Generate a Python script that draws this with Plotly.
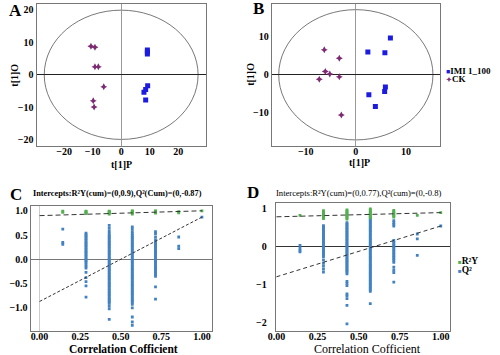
import plotly.graph_objects as go

# ---------------- data ----------------
# Panel A (OPLS-DA scores)
a_imi_x = [9.2, 9.2, 9.2, 9.3, 8.6, 8.0, 8.6]
a_imi_y = [7.6, 7.0, 6.4, -3.4, -4.5, -5.4, -7.8]
a_ck_x = [-10.6, -9.2, -9.2, -8.0, -6.1, -9.8, -9.5]
a_ck_y = [8.8, 8.5, 2.5, 2.5, -3.7, -8.0, -9.9]
a_ellipse = (27.0, 19.9)

# Panel B
b_imi_x = [6.9, 2.4, 5.8, 5.9, 5.75, 2.6, 3.9]
b_imi_y = [9.7, 6.0, 5.8, -3.2, -4.4, -5.3, -8.4]
b_ck_x = [-6.3, -3.3, -6.1, -5.2, -7.3, -3.3, -2.9]
b_ck_y = [6.6, 4.4, 0.9, 0.2, -1.2, -0.5, -10.6]
b_ellipse = (15.4, 17.2)

series_names = ["IMI 1_100", "CK"]
perm_names = ["R²Y", "Q²"]

# Panel C (permutation test)
c_r2y = {
    0.143: [0.97, 0.99],
    0.286: [0.94, 0.96, 0.98, 0.99],
    0.429: [0.93, 0.95, 0.97, 0.98, 0.99],
    0.571: [0.93, 0.95, 0.97, 0.99, 1.0],
    0.714: [0.95, 0.97, 0.99, 1.0],
    0.857: [0.96, 0.98],
    1.0: [1.0],
}
c_q2 = {
    0.143: [0.62, 0.35, 0.31],
    0.286: [0.54, 0.51, 0.48, 0.45, 0.42, 0.39, 0.36, 0.33, 0.30, 0.27, 0.24, 0.21,
            0.18, 0.15, 0.12, 0.09, 0.06, 0.03, 0.0, -0.03, -0.06, -0.10, -0.14, -0.18,
            -0.27, -0.38, -0.46, -0.55, -0.78],
    0.429: [0.70, 0.64, 0.58, 0.54, 0.50, 0.47, 0.44, 0.41, 0.38, 0.35, 0.32, 0.29,
            0.26, 0.23, 0.20, 0.17, 0.14, 0.11, 0.08, 0.05, 0.02, -0.01, -0.04, -0.07,
            -0.10, -0.13, -0.16, -0.19, -0.22, -0.25, -0.28, -0.31, -0.34, -0.37, -0.40,
            -0.43, -0.46, -0.49, -0.52, -0.55, -0.58, -0.61, -0.64, -0.67, -0.70, -0.73,
            -0.76, -0.79, -0.82, -0.85, -0.88, -0.91, -0.96, -1.02, -1.24],
    0.571: [0.67, 0.62, 0.57, 0.53, 0.49, 0.46, 0.43, 0.40, 0.37, 0.34, 0.31, 0.28,
            0.25, 0.22, 0.19, 0.16, 0.13, 0.10, 0.07, 0.04, 0.01, -0.02, -0.05, -0.08,
            -0.11, -0.14, -0.17, -0.20, -0.23, -0.26, -0.29, -0.32, -0.35, -0.38, -0.41,
            -0.44, -0.47, -0.50, -0.53, -0.56, -0.59, -0.62, -0.65, -0.68, -0.71, -0.74,
            -0.77, -0.80, -0.83, -0.86, -0.89, -0.93, -1.0, -1.19, -1.29, -1.36],
    0.714: [0.57, 0.53, 0.46, 0.40, 0.37, 0.34, 0.31, 0.28, 0.25, 0.22, 0.19, 0.16,
            0.13, 0.10, 0.07, 0.04, 0.01, -0.02, -0.05, -0.08, -0.11, -0.14, -0.17,
            -0.20, -0.23, -0.26, -0.29, -0.32, -0.35, -0.57, -0.82],
    0.857: [0.46, 0.27, 0.22],
    1.0: [0.87],
}
c_r2y_line = [0.90, 1.0]   # intercept, original model
c_q2_line = [-0.87, 0.87]

# Panel D
d_r2y = {
    0.143: [0.81],
    0.286: [0.72, 0.75, 0.78, 0.80, 0.83, 0.86, 0.90, 0.93],
    0.429: [0.71, 0.74, 0.77, 0.80, 0.83, 0.86, 0.89, 0.92, 0.95],
    0.571: [0.74, 0.77, 0.80, 0.83, 0.86, 0.89, 0.92, 0.95, 0.98],
    0.714: [0.76, 0.79, 0.82, 0.85, 0.88, 0.91, 0.94],
    0.857: [0.81],
    1.0: [0.88],
}
d_q2 = {
    0.143: [0.02, -0.05, -0.11, -0.15],
    0.286: [0.54, 0.50, 0.47, 0.43, 0.40, 0.36, 0.33, 0.29, 0.26, 0.22, 0.19, 0.15,
            0.12, 0.08, 0.05, 0.01, -0.02, -0.06, -0.09, -0.13, -0.16, -0.20, -0.23,
            -0.27, -0.36, -0.45, -0.52, -0.60, -0.68],
    0.429: [0.62, 0.58, 0.55, 0.51, 0.48, 0.44, 0.41, 0.37, 0.34, 0.30, 0.27, 0.23,
            0.20, 0.16, 0.13, 0.09, 0.06, 0.02, -0.01, -0.05, -0.08, -0.12, -0.15,
            -0.19, -0.22, -0.26, -0.29, -0.33, -0.36, -0.40, -0.43, -0.47, -0.50,
            -0.54, -0.57, -0.61, -0.64, -0.68, -0.72, -0.92, -0.97, -1.03, -1.25,
            -1.30, -1.37, -1.55, -2.03],
    0.571: [0.75, 0.71, 0.68, 0.64, 0.61, 0.57, 0.54, 0.50, 0.47, 0.43, 0.40, 0.36,
            0.33, 0.29, 0.26, 0.22, 0.19, 0.15, 0.12, 0.08, 0.05, 0.01, -0.02, -0.06,
            -0.09, -0.13, -0.16, -0.20, -0.23, -0.27, -0.30, -0.34, -0.37, -0.41,
            -0.44, -0.48, -0.51, -0.55, -0.58, -0.62, -0.65, -0.69, -0.72, -0.76,
            -0.79, -0.83, -0.86, -0.90, -0.93, -0.97, -1.00, -1.04, -1.07, -1.11,
            -1.14, -1.18, -1.50],
    0.714: [0.67, 0.62, 0.57, 0.53, 0.15, 0.11, 0.07, 0.03, -0.01, -0.05, -0.09,
            -0.13, -0.17, -0.21, -0.25, -0.29, -0.33, -0.37, -0.42, -0.55, -0.63,
            -0.69, -0.94],
    0.857: [0.32, 0.19, -0.24],
    1.0: [0.53],
}
d_r2y_line = [0.77, 0.88]
d_q2_line = [-0.80, 0.53]

# ---------------- helpers ----------------
W, H = 500, 355
def px(x):
    return x / W
def py(y):
    return 1 - y / H

def flatten(d):
    xs, ys = [], []
    for k, vals in d.items():
        xs += [k] * len(vals)
        ys += vals
    return xs, ys

SERIF = "Liberation Serif"
BLUE_SQ = "#1c1ce0"
PURPLE = "#7d2a72"
Q2C = "#4382c2"
R2C = "#52b04f"
LINE = "#333333"

fig = go.Figure()

# A
fig.add_trace(go.Scatter(x=a_imi_x, y=a_imi_y, mode="markers", xaxis="x", yaxis="y",
                         marker=dict(symbol="square", size=5, color=BLUE_SQ), showlegend=False))
fig.add_trace(go.Scatter(x=a_ck_x, y=a_ck_y, mode="markers", xaxis="x", yaxis="y",
                         marker=dict(symbol="star-diamond", size=5, color=PURPLE), showlegend=False))
# B
fig.add_trace(go.Scatter(x=b_imi_x, y=b_imi_y, mode="markers", xaxis="x2", yaxis="y2",
                         marker=dict(symbol="square", size=5, color=BLUE_SQ), showlegend=False))
fig.add_trace(go.Scatter(x=b_ck_x, y=b_ck_y, mode="markers", xaxis="x2", yaxis="y2",
                         marker=dict(symbol="star-diamond", size=5, color=PURPLE), showlegend=False))

# C
for d, col in [(c_q2, Q2C), (c_r2y, R2C)]:
    xs, ys = flatten(d)
    fig.add_trace(go.Scatter(x=xs, y=ys, mode="markers", xaxis="x3", yaxis="y3",
                             marker=dict(symbol="square", size=2.8, color=col), showlegend=False))
fig.add_trace(go.Scatter(x=[0, 1], y=c_r2y_line, mode="lines", xaxis="x3", yaxis="y3",
                         line=dict(color=LINE, width=1, dash="5px,3px"), showlegend=False))
fig.add_trace(go.Scatter(x=[0, 1], y=c_q2_line, mode="lines", xaxis="x3", yaxis="y3",
                         line=dict(color=LINE, width=1, dash="3px,2px"), showlegend=False))
# D
for d, col in [(d_q2, Q2C), (d_r2y, R2C)]:
    xs, ys = flatten(d)
    fig.add_trace(go.Scatter(x=xs, y=ys, mode="markers", xaxis="x4", yaxis="y4",
                             marker=dict(symbol="square", size=2.8, color=col), showlegend=False))
fig.add_trace(go.Scatter(x=[0, 1], y=d_r2y_line, mode="lines", xaxis="x4", yaxis="y4",
                         line=dict(color=LINE, width=1, dash="5px,3px"), showlegend=False))
fig.add_trace(go.Scatter(x=[0, 1], y=d_q2_line, mode="lines", xaxis="x4", yaxis="y4",
                         line=dict(color=LINE, width=1, dash="4px,3px"), showlegend=False))

tickfont = dict(family=SERIF, size=10, color="black", weight="bold")
def ax(**kw):
    base = dict(showgrid=False, showline=True, mirror=True, linecolor="#777", linewidth=1,
                ticks="", tickfont=tickfont, zeroline=True, zerolinewidth=1)
    base.update(kw)
    return base

layout = dict(
    width=W, height=H, margin=dict(l=0, r=0, t=0, b=0),
    paper_bgcolor="white", plot_bgcolor="white", showlegend=False,
    xaxis=ax(domain=[px(29), px(201)], range=[-29.7, 29.7], tickvals=[-20, -10, 0, 10, 20],
             anchor="y", zerolinecolor="#999", ticklabelstandoff=-4),
    yaxis=ax(domain=[py(145), py(3)], range=[-21.8, 21.8], tickvals=[-20, -10, 0, 10, 20],
             anchor="x", zerolinecolor="#222"),
    xaxis2=ax(domain=[px(268), px(439)], range=[-16.8, 16.8], tickvals=[-10, 0, 10],
              anchor="y2", zerolinecolor="#999", ticklabelstandoff=-4),
    yaxis2=ax(domain=[py(145), py(3)], range=[-18.7, 18.7], tickvals=[-10, 0, 10],
              anchor="x2", zerolinecolor="#222"),
    xaxis3=ax(domain=[px(23), px(207)], range=[-0.055, 1.06], tickvals=[0, 0.25, 0.5, 0.75, 1.0],
              tickformat=".2f", anchor="y3", zerolinecolor="#ccc", ticklabelstandoff=-4),
    yaxis3=ax(domain=[py(331), py(206)], range=[-1.48, 1.09], tickvals=[-1.0, -0.5, 0, 0.5, 1.0],
              tickformat=".1f", anchor="x3", zerolinecolor="#777"),
    xaxis4=ax(domain=[px(272), px(449)], range=[-0.005, 1.055], tickvals=[0, 0.25, 0.5, 0.75, 1.0],
              tickformat=".2f", anchor="y4", zeroline=False, ticklabelstandoff=-4),
    yaxis4=ax(domain=[py(331), py(203)], range=[-2.22, 1.12], tickvals=[-2, -1, 0, 1],
              anchor="x4", zerolinecolor="#333", ticklabelstandoff=6),
)
fig.update_layout(**layout)

# confidence ellipses
for (rx, ry), xr, yr in [(a_ellipse, "x", "y"), (b_ellipse, "x2", "y2")]:
    fig.add_shape(type="circle", xref=xr, yref=yr, x0=-rx, x1=rx, y0=-ry, y1=ry,
                  line=dict(color="#555", width=0.8), layer="below")

def note(text, x, y, size=10, bold=True, xanchor="center", angle=0, color="black"):
    fig.add_annotation(text=text, x=px(x), y=py(y), xref="paper", yref="paper",
                       xanchor=xanchor, yanchor="middle", showarrow=False, textangle=angle,
                       font=dict(family=SERIF, size=size, color=color,
                                 weight="bold" if bold else "normal"))

# panel letters
note("A", 8, 10, size=17)
note("B", 255, 8, size=17)
note("C", 8, 194, size=17)
note("D", 249, 192, size=17)

# axis titles
note("t[1]P", 115, 164, size=10)
note("t[1]P", 357, 162, size=10)
note("t[1]O", 7, 74, size=10, angle=-90)
note("t[1]O", 247, 74, size=10, angle=-90)
note("Correlation Cofficient", 117, 349, size=11.5)
note("Correlation Cofficient", 365, 349, size=12, bold=False)

# permutation titles
note(f"Intercepts:{perm_names[0]}(cum)=(0,{c_r2y_line[0]:g}),{perm_names[1]}(Cum)=(0,{c_q2_line[0]:g})",
     111, 193, size=8.3)
note(f"Intercepts:{perm_names[0]}(cum)=(0,{d_r2y_line[0]:g}),{perm_names[1]}(cum)=(0,{d_q2_line[0]:g})",
     357, 193, size=8.6, bold=False)

# legends
note(f'<span style="color:{BLUE_SQ};font-size:7px">■</span>{series_names[0]}', 443, 70.5, size=9, xanchor="left")
note(f'<span style="color:{PURPLE};font-size:7px">✦</span>{series_names[1]}', 443, 78.5, size=9, xanchor="left")
note(f'<span style="color:{R2C};font-size:6px">■</span>{perm_names[0]}', 455, 261, size=9.5, xanchor="left")
note(f'<span style="color:{Q2C};font-size:6px">■</span>{perm_names[1]}', 455, 270, size=9.5, xanchor="left")

fig.write_html("out.html", config={"displayModeBar": False},
               post_script="document.body.style.margin='0';document.body.style.overflow='hidden';")
